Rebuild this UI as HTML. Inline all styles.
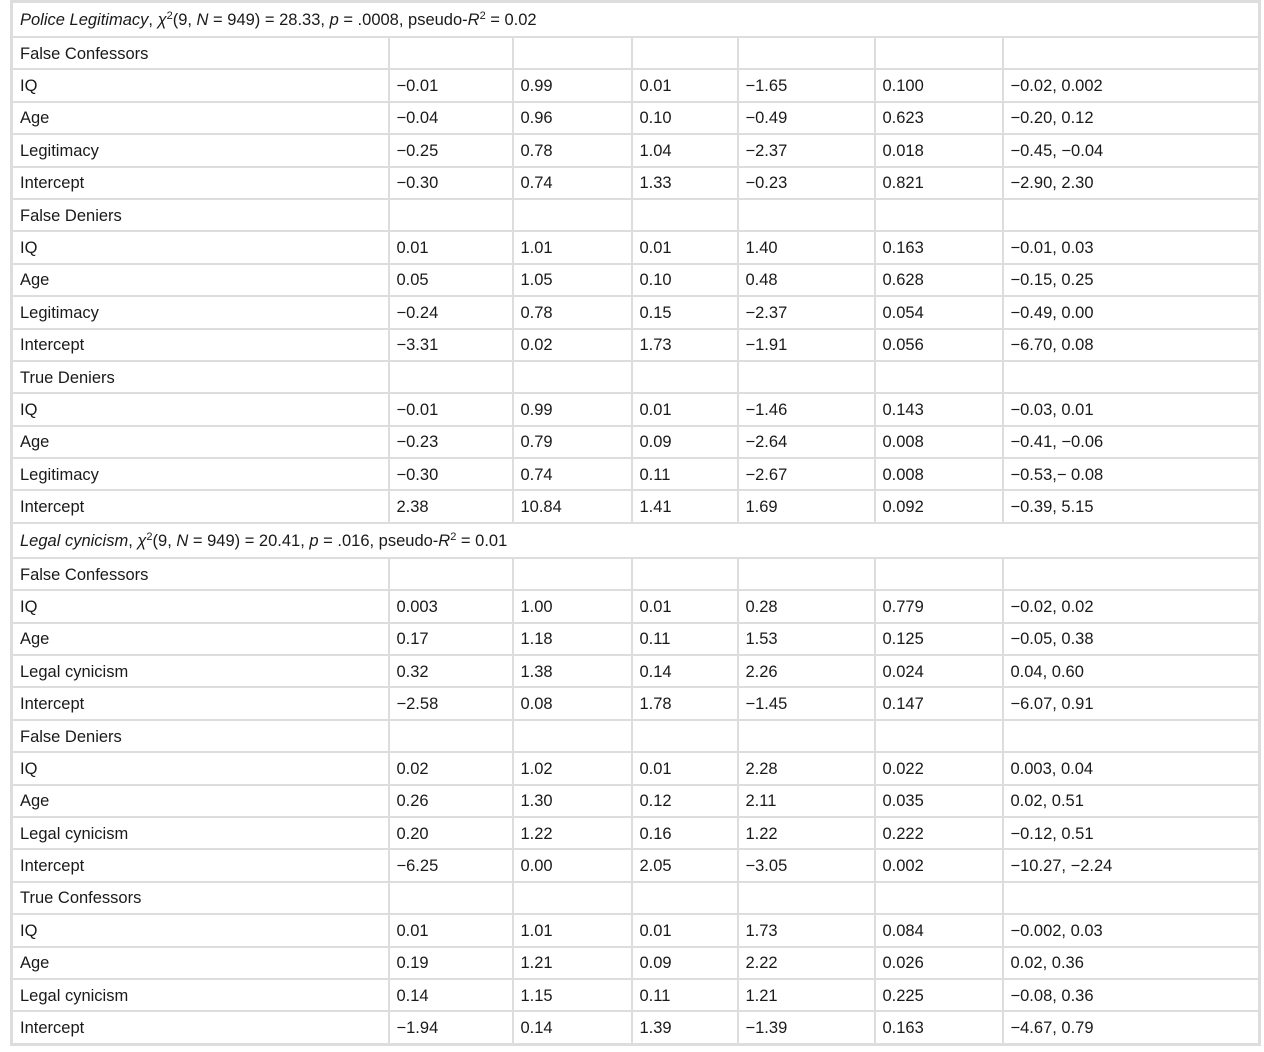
<!DOCTYPE html>
<html><head><meta charset="utf-8"><style>
html,body{margin:0;padding:0;background:#fff;width:1264px;height:1052px;overflow:hidden}
table{position:absolute;left:10px;top:0;border-collapse:collapse;table-layout:fixed;width:1248px;font-family:"Liberation Sans",sans-serif;font-size:16.5px;color:#1a1a1a;border:3px solid #ddd}
td{border:2px solid #ddd;padding:2px 0 0 7px;height:28.4px;white-space:nowrap;overflow:hidden;vertical-align:middle}
tr.h td{height:31px;font-size:16.5px}
i{font-style:italic}
sup{font-size:11px;vertical-align:6px;line-height:0}
</style></head><body>
<table>
<colgroup><col style="width:377px"><col style="width:124px"><col style="width:119px"><col style="width:106px"><col style="width:137px"><col style="width:128px"><col style="width:257px"></colgroup>
<tr class="h"><td colspan="7"><i>Police Legitimacy</i>, <i>χ</i><sup>2</sup>(9, <i>N</i> = 949) = 28.33, <i>p</i> = .0008, pseudo-<i>R</i><sup>2</sup> = 0.02</td></tr>
<tr><td>False Confessors</td><td></td><td></td><td></td><td></td><td></td><td></td></tr>
<tr><td>IQ</td><td>−0.01</td><td>0.99</td><td>0.01</td><td>−1.65</td><td>0.100</td><td>−0.02, 0.002</td></tr>
<tr><td>Age</td><td>−0.04</td><td>0.96</td><td>0.10</td><td>−0.49</td><td>0.623</td><td>−0.20, 0.12</td></tr>
<tr><td>Legitimacy</td><td>−0.25</td><td>0.78</td><td>1.04</td><td>−2.37</td><td>0.018</td><td>−0.45, −0.04</td></tr>
<tr><td>Intercept</td><td>−0.30</td><td>0.74</td><td>1.33</td><td>−0.23</td><td>0.821</td><td>−2.90, 2.30</td></tr>
<tr><td>False Deniers</td><td></td><td></td><td></td><td></td><td></td><td></td></tr>
<tr><td>IQ</td><td>0.01</td><td>1.01</td><td>0.01</td><td>1.40</td><td>0.163</td><td>−0.01, 0.03</td></tr>
<tr><td>Age</td><td>0.05</td><td>1.05</td><td>0.10</td><td>0.48</td><td>0.628</td><td>−0.15, 0.25</td></tr>
<tr><td>Legitimacy</td><td>−0.24</td><td>0.78</td><td>0.15</td><td>−2.37</td><td>0.054</td><td>−0.49, 0.00</td></tr>
<tr><td>Intercept</td><td>−3.31</td><td>0.02</td><td>1.73</td><td>−1.91</td><td>0.056</td><td>−6.70, 0.08</td></tr>
<tr><td>True Deniers</td><td></td><td></td><td></td><td></td><td></td><td></td></tr>
<tr><td>IQ</td><td>−0.01</td><td>0.99</td><td>0.01</td><td>−1.46</td><td>0.143</td><td>−0.03, 0.01</td></tr>
<tr><td>Age</td><td>−0.23</td><td>0.79</td><td>0.09</td><td>−2.64</td><td>0.008</td><td>−0.41, −0.06</td></tr>
<tr><td>Legitimacy</td><td>−0.30</td><td>0.74</td><td>0.11</td><td>−2.67</td><td>0.008</td><td>−0.53,− 0.08</td></tr>
<tr><td>Intercept</td><td>2.38</td><td>10.84</td><td>1.41</td><td>1.69</td><td>0.092</td><td>−0.39, 5.15</td></tr>
<tr class="h"><td colspan="7"><i>Legal cynicism</i>, <i>χ</i><sup>2</sup>(9, <i>N</i> = 949) = 20.41, <i>p</i> = .016, pseudo-<i>R</i><sup>2</sup> = 0.01</td></tr>
<tr><td>False Confessors</td><td></td><td></td><td></td><td></td><td></td><td></td></tr>
<tr><td>IQ</td><td>0.003</td><td>1.00</td><td>0.01</td><td>0.28</td><td>0.779</td><td>−0.02, 0.02</td></tr>
<tr><td>Age</td><td>0.17</td><td>1.18</td><td>0.11</td><td>1.53</td><td>0.125</td><td>−0.05, 0.38</td></tr>
<tr><td>Legal cynicism</td><td>0.32</td><td>1.38</td><td>0.14</td><td>2.26</td><td>0.024</td><td>0.04, 0.60</td></tr>
<tr><td>Intercept</td><td>−2.58</td><td>0.08</td><td>1.78</td><td>−1.45</td><td>0.147</td><td>−6.07, 0.91</td></tr>
<tr><td>False Deniers</td><td></td><td></td><td></td><td></td><td></td><td></td></tr>
<tr><td>IQ</td><td>0.02</td><td>1.02</td><td>0.01</td><td>2.28</td><td>0.022</td><td>0.003, 0.04</td></tr>
<tr><td>Age</td><td>0.26</td><td>1.30</td><td>0.12</td><td>2.11</td><td>0.035</td><td>0.02, 0.51</td></tr>
<tr><td>Legal cynicism</td><td>0.20</td><td>1.22</td><td>0.16</td><td>1.22</td><td>0.222</td><td>−0.12, 0.51</td></tr>
<tr><td>Intercept</td><td>−6.25</td><td>0.00</td><td>2.05</td><td>−3.05</td><td>0.002</td><td>−10.27, −2.24</td></tr>
<tr><td>True Confessors</td><td></td><td></td><td></td><td></td><td></td><td></td></tr>
<tr><td>IQ</td><td>0.01</td><td>1.01</td><td>0.01</td><td>1.73</td><td>0.084</td><td>−0.002, 0.03</td></tr>
<tr><td>Age</td><td>0.19</td><td>1.21</td><td>0.09</td><td>2.22</td><td>0.026</td><td>0.02, 0.36</td></tr>
<tr><td>Legal cynicism</td><td>0.14</td><td>1.15</td><td>0.11</td><td>1.21</td><td>0.225</td><td>−0.08, 0.36</td></tr>
<tr><td>Intercept</td><td>−1.94</td><td>0.14</td><td>1.39</td><td>−1.39</td><td>0.163</td><td>−4.67, 0.79</td></tr>
</table>
</body></html>
